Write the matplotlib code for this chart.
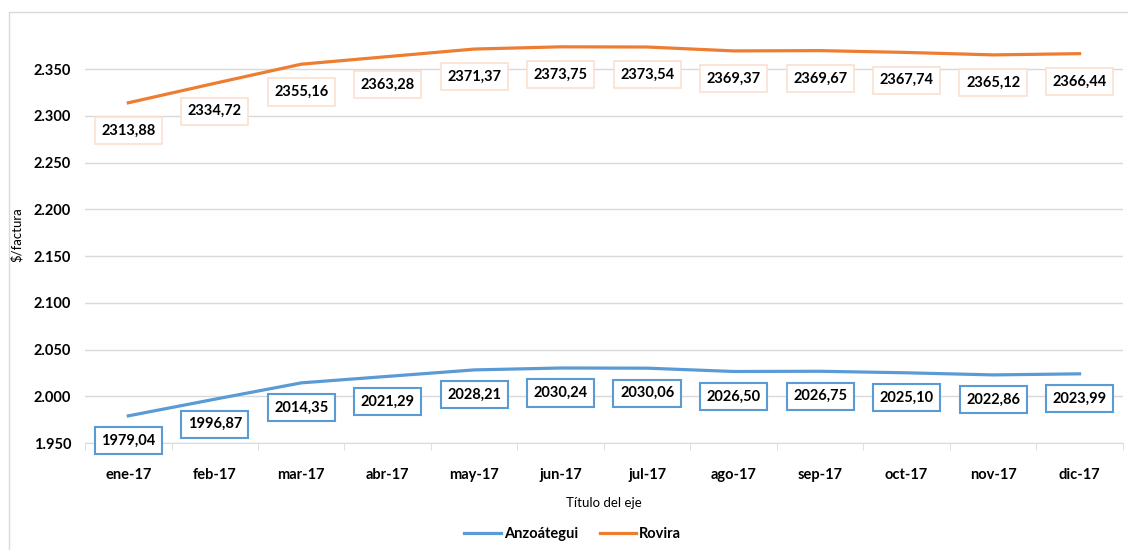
import matplotlib
matplotlib.use('Agg')
import matplotlib.pyplot as plt
from matplotlib.patches import Rectangle

plt.rcParams['font.family'] = ['Lato', 'DejaVu Sans']

months = ['ene-17', 'feb-17', 'mar-17', 'abr-17', 'may-17', 'jun-17',
          'jul-17', 'ago-17', 'sep-17', 'oct-17', 'nov-17', 'dic-17']
anzoategui = [1979.04, 1996.87, 2014.35, 2021.29, 2028.21, 2030.24,
              2030.06, 2026.50, 2026.75, 2025.10, 2022.86, 2023.99]
rovira = [2313.88, 2334.72, 2355.16, 2363.28, 2371.37, 2373.75,
          2373.54, 2369.37, 2369.67, 2367.74, 2365.12, 2366.44]
yticks = [1950, 2000, 2050, 2100, 2150, 2200, 2250, 2300, 2350]

blue = '#5b9bd5'
orange = '#ed7d31'


def fmt(v):
    return f'{v:.2f}'.replace('.', ',')


def fmt_tick(v):
    return f'{int(v) // 1000}.{int(v) % 1000:03d}'


fig = plt.figure(figsize=(11.28, 5.5), dpi=100)
fig.patches.append(Rectangle((0.008, -0.01), 1.0, 0.988, transform=fig.transFigure,
                             fill=False, edgecolor='#d9d9d9', linewidth=1))
ax = fig.add_axes([0.0754, 0.1945, 0.92, 0.7565])

x = list(range(len(months)))
ax.plot(x, anzoategui, color=blue, linewidth=2.3, label='Anzoátegui')
ax.plot(x, rovira, color=orange, linewidth=2.3, label='Rovira')

for xi, v in zip(x, anzoategui):
    ax.annotate(fmt(v), (xi, v), xytext=(0, -18), textcoords='offset points',
                ha='center', va='center', fontsize=10.5, fontweight='bold',
                bbox=dict(boxstyle='square,pad=0.45', fc='white', ec=blue, lw=1.5))
for xi, v in zip(x, rovira):
    ax.annotate(fmt(v), (xi, v), xytext=(0, -20), textcoords='offset points',
                ha='center', va='center', fontsize=10.5, fontweight='bold',
                bbox=dict(boxstyle='square,pad=0.45', fc='white', ec='#fbe0cf', lw=1.2))

ax.set_xlim(-0.5, len(months) - 0.5)
ax.set_ylim(1950, 2395)
ax.set_yticks(yticks)
ax.set_yticklabels([fmt_tick(t) for t in yticks], fontsize=10.5, fontweight='bold')
ax.set_xticks(x)
ax.set_xticklabels(months, fontsize=10.5, fontweight='bold')
ax.set_xticks([i - 0.5 for i in range(len(months) + 1)], minor=True)
ax.tick_params(axis='x', which='major', length=0, pad=18)
ax.tick_params(axis='x', which='minor', length=5, color='#d9d9d9')
ax.tick_params(axis='y', length=0, pad=10)
ax.grid(axis='y', color='#d9d9d9', linewidth=1)
ax.set_axisbelow(True)
for s in ['top', 'right', 'left']:
    ax.spines[s].set_visible(False)
ax.spines['bottom'].set_color('#d9d9d9')

ax.set_xlabel('Título del eje', fontsize=9.5, labelpad=11)
ax.set_ylabel('$/factura', fontsize=9.5, labelpad=8)
ax.legend(loc='upper center', bbox_to_anchor=(0.47, -0.17), ncol=2, frameon=False,
          handlelength=2.5, columnspacing=1.5, handletextpad=0.2,
          prop={'weight': 'bold', 'size': 10.5})

fig.savefig('out.png', dpi=100)
